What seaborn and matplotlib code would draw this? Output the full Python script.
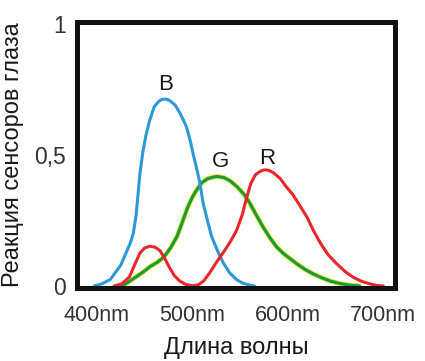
import seaborn as sns
import matplotlib.pyplot as plt

# wavelength (nm) / response
blue_x = [397, 405, 414, 425, 435, 438, 441, 443, 445, 448, 451, 455, 460, 465, 468, 471,
          474, 477, 482, 487, 491, 494, 498, 501, 505, 508, 511, 515, 520, 526, 532, 539,
          546, 552, 560, 565]
blue_y = [0, 0.008, 0.025, 0.08, 0.165, 0.2, 0.27, 0.35, 0.43, 0.51, 0.57, 0.63, 0.685,
          0.706, 0.712, 0.714, 0.712, 0.706, 0.69, 0.66, 0.63, 0.605, 0.55, 0.5, 0.44, 0.39,
          0.32, 0.26, 0.19, 0.137, 0.09, 0.05, 0.025, 0.012, 0.003, 0]

green_x = [424, 430, 437, 443, 449, 456, 463, 470, 477, 484, 490, 495, 500, 505, 510,
           516, 522, 525, 528, 533, 540, 547, 554, 560, 567, 574, 581, 588, 595, 602, 610,
           618, 626, 635, 645, 655, 665, 675]
green_y = [0, 0.008, 0.025, 0.04, 0.055, 0.075, 0.09, 0.11, 0.145, 0.19, 0.25, 0.3, 0.34,
           0.37, 0.395, 0.41, 0.416, 0.418, 0.417, 0.414, 0.4, 0.378, 0.35, 0.317, 0.27,
           0.225, 0.185, 0.15, 0.125, 0.105, 0.083, 0.063, 0.047, 0.032, 0.018, 0.009,
           0.003, 0]

red_x = [418, 426, 434, 440, 445, 450, 455, 461, 466, 471, 476, 481, 487, 493, 500, 506,
         512, 518, 525, 532, 539, 546, 552, 557, 561, 566, 572, 575, 578, 581, 585, 592,
         598, 605, 612, 620, 627, 634, 642, 651, 660, 668, 677, 686, 693, 700]
red_y = [0, 0.008, 0.035, 0.085, 0.126, 0.145, 0.152, 0.148, 0.135, 0.105, 0.07, 0.04,
         0.018, 0.006, 0.001, 0.004, 0.02, 0.05, 0.09, 0.126, 0.165, 0.21, 0.27, 0.34,
         0.39, 0.425, 0.44, 0.443, 0.443, 0.44, 0.432, 0.41, 0.38, 0.35, 0.31, 0.263,
         0.21, 0.164, 0.12, 0.085, 0.055, 0.034, 0.018, 0.008, 0.002, 0]

curve_names = ["B", "G", "R"]
label_pos = [(472, 0.77), (529, 0.477), (578, 0.487)]

x_ticks = [400, 500, 600, 700]
x_ticklabels = ["400nm", "500nm", "600nm", "700nm"]
y_ticks = [0, 0.5, 1]
y_ticklabels = ["0", "0,5", "1"]

sns.set_style("white")
plt.rcParams['font.family'] = ['Liberation Sans', 'DejaVu Sans']
plt.rcParams['lines.solid_joinstyle'] = 'round'

fig = plt.figure(figsize=(4.25, 3.61), dpi=100)
ax = fig.add_axes([0.181, 0.202, 0.748, 0.737])

# green curve has a faint yellow rim in the original
sns.lineplot(x=green_x, y=green_y, ax=ax, color='#e6e01a', lw=3.4)
sns.lineplot(x=green_x, y=green_y, ax=ax, color='#179a3c', lw=2.2)
sns.lineplot(x=blue_x, y=blue_y, ax=ax, color='#2b98d8', lw=2.2)
sns.lineplot(x=red_x, y=red_y, ax=ax, color='#e8262b', lw=2.2)

for name, (lx, ly) in zip(curve_names, label_pos):
    ax.text(lx, ly, name, ha='center', va='center', fontsize=16, color='#1a1a1a')

ax.set_xlim(379, 712)
ax.set_ylim(-0.008, 1.008)
ax.set_xticks(x_ticks)
ax.set_xticklabels(x_ticklabels)
ax.set_yticks(y_ticks)
ax.set_yticklabels(y_ticklabels)
ax.tick_params(length=0, labelcolor='#333333')
ax.tick_params(axis='x', pad=12, labelsize=15.5)
ax.tick_params(axis='y', pad=8, labelsize=16.5)

ax.set_xlabel('Длина волны', fontsize=17, color='#1a1a1a', labelpad=8)
ax.set_ylabel('Реакция сенсоров глаза', fontsize=17, color='#1a1a1a')
ax.yaxis.set_label_coords(-0.166, 0.5)

for s in ax.spines.values():
    s.set_visible(True)
    s.set_linewidth(3.6)
    s.set_color('#111111')

plt.savefig('out.png', dpi=100)
